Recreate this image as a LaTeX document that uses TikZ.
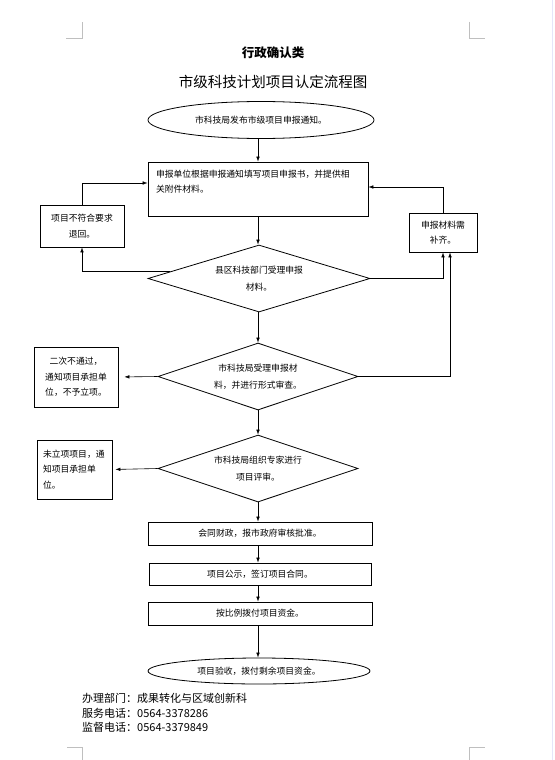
\documentclass[tikz,border=0pt]{standalone}
\usepackage{fontspec}
\setmainfont{Noto Sans CJK SC}
\usetikzlibrary{shapes.geometric,arrows.meta,calc}
\begin{document}
\begin{tikzpicture}[x=1pt,y=-1pt,
  arr/.style={draw, line width=0.6pt, -{Latex[length=5pt,width=3.6pt]}},
  ln/.style={draw, line width=0.6pt},
  boxs/.style={draw, line width=0.8pt, rectangle, inner sep=0pt, font=\fontsize{8.8}{15.5}\selectfont},
  dia/.style={draw, line width=0.8pt, diamond, aspect=3, inner sep=0pt, align=center, font=\fontsize{8.8}{17}\selectfont},
  ell/.style={draw, line width=0.8pt, ellipse, inner sep=0pt, font=\fontsize{8.8}{12}\selectfont},
  pagemk/.style={draw=black!25, line width=0.8pt}
]
\useasboundingbox (0,0) rectangle (554,760);
\fill[white] (0,0) rectangle (554,760);
% page decorations
\draw[pagemk] (66,38) -- (82,38) -- (82,22);
\draw[pagemk] (469,22) -- (469,38) -- (485,38);
\draw[pagemk] (67,747) -- (82,747) -- (82,760);
\draw[pagemk] (469,760) -- (469,747) -- (485,747);
\draw[draw=black!25!blue!10!white, line width=1.6pt] (552.5,0) -- (552.5,760);

% titles
\node[font=\bfseries\fontsize{12.5}{14}\selectfont] (t1) at (273,53) {行政确认类};
\node[font=\fontsize{14.5}{16}\selectfont] (t2) at (273,82) {市级科技计划项目认定流程图};

% main column
\node[ell, minimum width=226, minimum height=37] (e1) at (261,120) {市科技局发布市级项目申报通知。};
\node[boxs, minimum width=220, minimum height=54, text width=204, align=left] (b2) at (258,189) {申报单位根据申报通知填写项目申报书，并提供相\\关附件材料。\\ \mbox{}};
\node[dia, minimum width=222, minimum height=67] (d1) at (259,278.5) {县区科技部门受理申报\\材料。};
\node[dia, minimum width=200, minimum height=67] (d2) at (258,376.5) {市科技局受理申报材\\料，并进行形式审查。};
\node[dia, minimum width=200, minimum height=67] (d3) at (258,468.5) {市科技局组织专家进行\\项目评审。};
\node[boxs, minimum width=224, minimum height=23] (b4) at (260,533.5) {会同财政，报市政府审核批准。};
\node[boxs, minimum width=222, minimum height=22] (b5) at (260,574) {项目公示，签订项目合同。};
\node[boxs, minimum width=224, minimum height=23] (b6) at (260,613.5) {按比例拨付项目资金。};
\node[ell, minimum width=222, minimum height=26] (e2) at (259,671) {项目验收，拨付剩余项目资金。};

% side boxes
\node[boxs, minimum width=84, minimum height=42, align=center] (lb1) at (82,226) {项目不符合要求\\退回。};
\node[boxs, minimum width=68, minimum height=39, align=center] (rb) at (443,232.5) {申报材料需\\补齐。};
\node[boxs, minimum width=84, minimum height=60, align=center] (lb2) at (76,377) {二次不通过，\\通知项目承担单\\位，不予立项。};
\node[boxs, minimum width=75, minimum height=59, text width=63, align=left] (lb3) at (74.5,469.5) {未立项项目，通\\知项目承担单\\位。};

% footer
\node[anchor=west, align=left, inner sep=0pt, font=\fontsize{11}{14.5}\selectfont] (ft) at (82,713) {办理部门：成果转化与区域创新科\\服务电话：0564-3378286\\监督电话：0564-3379849};

% connectors
\draw[arr] (b2.north |- e1.south) -- (b2.north);
\draw[arr] (b2.south) -- (d1.north -| b2.south);
\draw[arr] (d1.south -| d2.north) -- (d2.north);
\draw[arr] (d2.south) -- (d3.north);
\draw[arr] (d3.south) -- (d3.south |- b4.north);
\draw[arr] (d3.south |- b4.south) -- (d3.south |- b5.north);
\draw[arr] (d3.south |- b5.south) -- (d3.south |- b6.north);
\draw[arr] (d3.south |- b6.south) -- (d3.south |- e2.north);

\draw[arr] (lb1.north) |- ([yshift=6pt]b2.west);
\draw[arr] ($(d1.west)!0.2!(d1.north)$) -| (lb1.south);
\draw[arr] (rb.north) |- ([yshift=2pt]b2.east);
\draw[arr] (d1.east) -| (rb.south);
\draw[arr] (d2.east) -| ([xshift=7pt]rb.south);
\draw[arr, shorten >=6pt] (d2.west) -- (lb2.east);
\draw[arr, shorten >=3pt] (d3.west) -- (lb3.east);
\end{tikzpicture}
\end{document}
